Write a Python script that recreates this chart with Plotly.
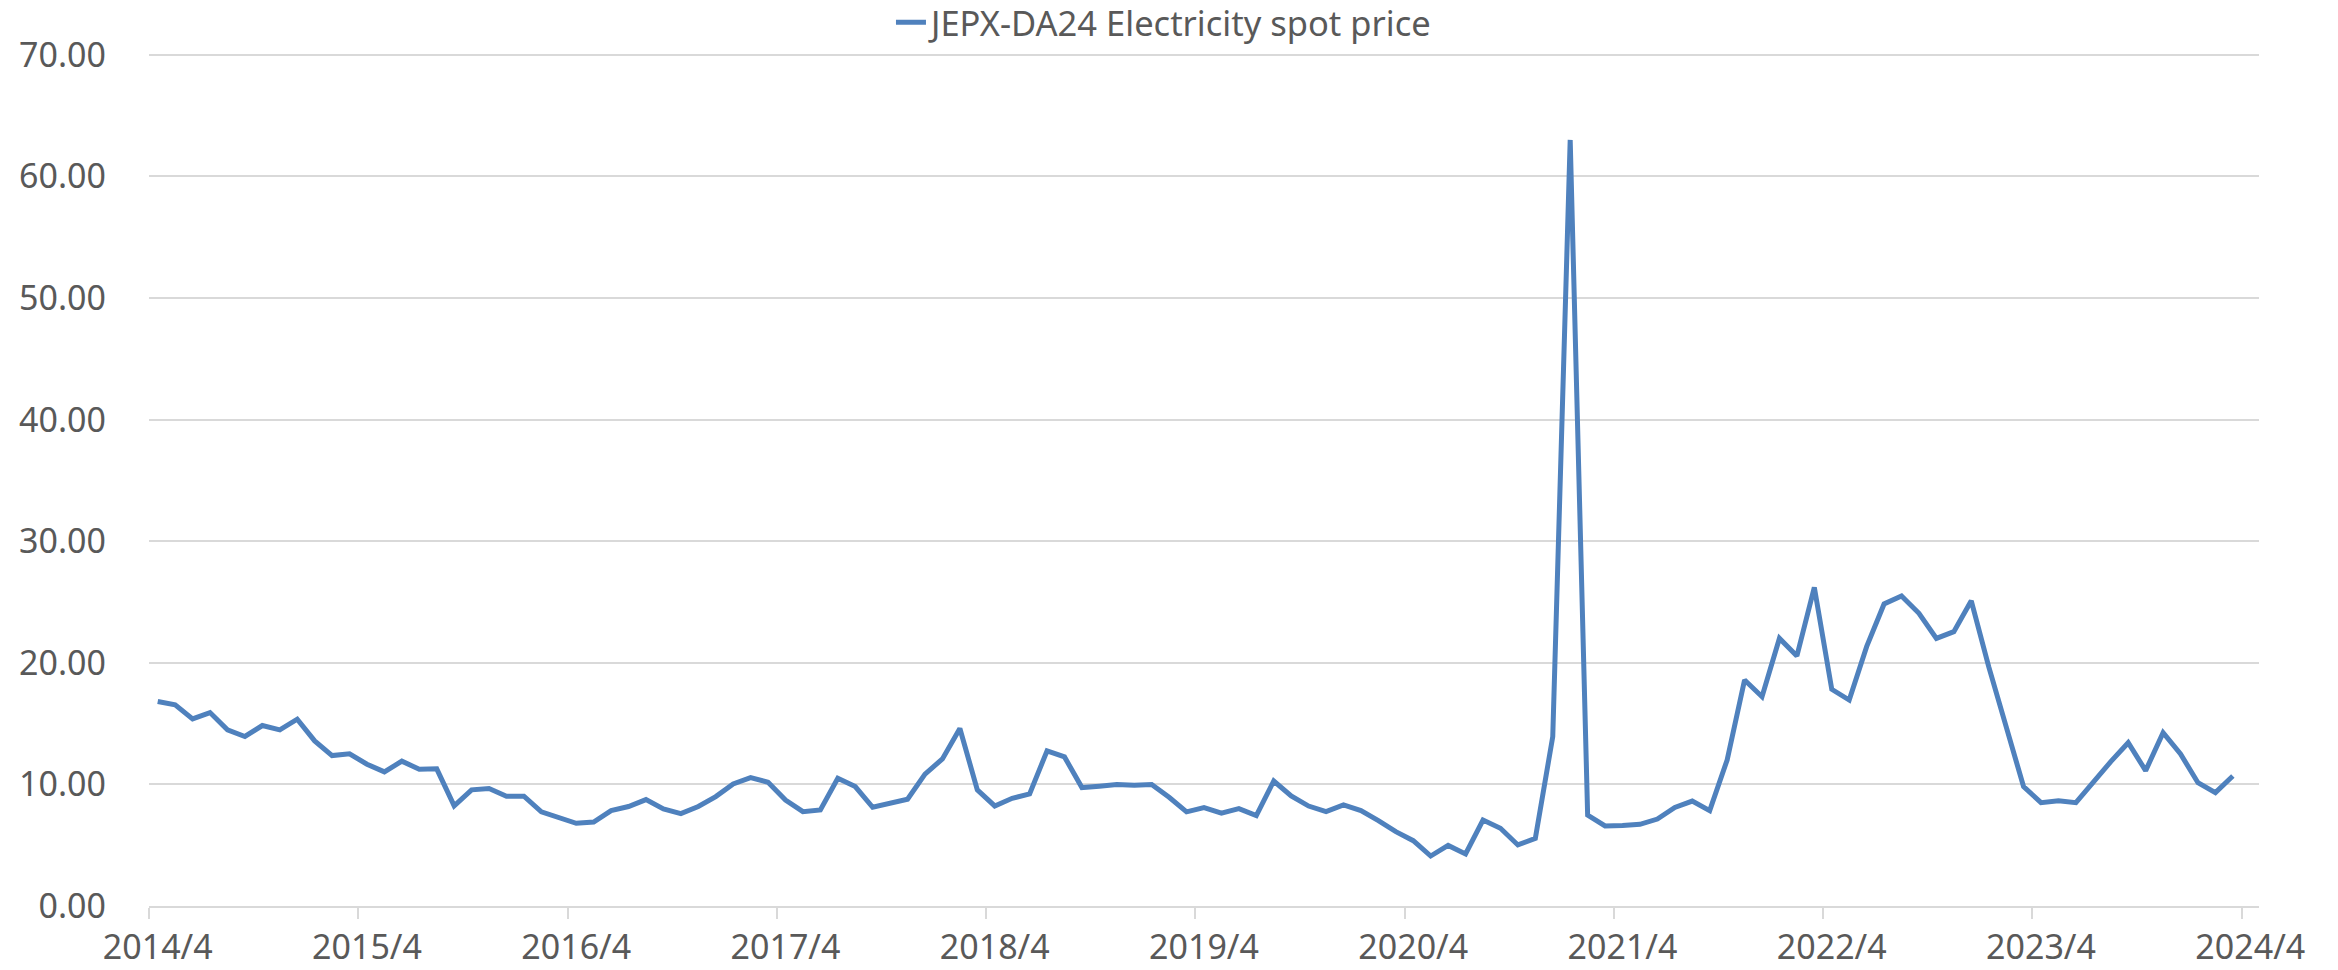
import plotly.graph_objects as go

# Categories: monthly from 2014/4 to 2024/4 (last category has no value)
months = []
for y in range(2014, 2025):
    for m in range(1, 13):
        if (y == 2014 and m < 4) or (y == 2024 and m > 4):
            continue
        months.append(f"{y}/{m}")

series_name = "JEPX-DA24 Electricity spot price"
prices = [
    16.82, 16.54, 15.39, 15.91, 14.49, 13.94, 14.84, 14.49, 15.36, 13.58, 12.37, 12.51,
    11.66, 11.03, 11.91, 11.25, 11.28, 8.23, 9.55, 9.66, 9.03, 9.03, 7.74, 7.27,
    6.80, 6.91, 7.85, 8.18, 8.75, 7.98, 7.60, 8.18, 9.00, 10.04, 10.56, 10.18,
    8.72, 7.76, 7.90, 10.51, 9.82, 8.12, 8.45, 8.78, 10.84, 12.10, 14.60, 9.55,
    8.23, 8.86, 9.22, 12.76, 12.26, 9.74, 9.85, 9.99, 9.93, 9.99, 8.94, 7.74,
    8.09, 7.63, 8.01, 7.43, 10.28, 9.05, 8.22, 7.76, 8.31, 7.84, 7.02, 6.11,
    5.37, 4.11, 4.98, 4.28, 7.07, 6.39, 5.02, 5.56, 13.93, 63.00, 7.48, 6.58,
    6.63, 6.72, 7.15, 8.11, 8.63, 7.84, 12.01, 18.59, 17.21, 22.01, 20.56, 26.20,
    17.82, 16.94, 21.33, 24.84, 25.50, 24.07, 22.01, 22.56, 25.10, 19.68, 14.75, 9.81,
    8.50, 8.66, 8.50, 10.22, 11.87, 13.43, 11.13, 14.25, 12.50, 10.14, 9.32, 10.69,
]

label_idx = list(range(0, len(months), 12))
tick_labels = [months[i] for i in label_idx]
boundary_vals = [i - 0.5 for i in label_idx]

TXT = "#595959"
GRID = "#d9d9d9"
FONT = "Noto Sans"
FS = 34

fig = go.Figure()
fig.add_trace(go.Scatter(
    x=list(range(len(prices))), y=prices, mode="lines", name=series_name,
    line=dict(color="#4F81BD", width=5),
    showlegend=True,
))

fig.update_layout(
    width=2338, height=970,
    margin=dict(l=149, r=79, t=53, b=64, autoexpand=False),
    paper_bgcolor="white", plot_bgcolor="white",
    font=dict(family=FONT, size=FS, color=TXT),
    showlegend=True,
    legend=dict(orientation="h", x=0.4815, xanchor="center",
                yref="container", y=0.977, yanchor="middle",
                font=dict(family=FONT, size=34.5, color=TXT), bgcolor="rgba(0,0,0,0)"),
    xaxis=dict(
        range=[-0.5, len(months) - 0.5],
        tickmode="array", tickvals=label_idx, ticktext=tick_labels,
        ticks="", showgrid=False, zeroline=False,
        showline=True, linecolor=GRID, linewidth=2,
        tickfont=dict(family=FONT, size=FS, color=TXT),
        ticklabelstandoff=10,
        minor=dict(tickmode="array", tickvals=boundary_vals, ticks="outside",
                   ticklen=11, tickwidth=2, tickcolor=GRID, showgrid=False),
    ),
    yaxis=dict(
        range=[0, 70.15], tickmode="linear", tick0=0, dtick=10, tickformat=".2f",
        showgrid=True, gridcolor=GRID, gridwidth=2, zeroline=False,
        ticks="", showline=False,
        tickfont=dict(family=FONT, size=FS, color=TXT),
        ticklabelstandoff=42,
    ),
)

fig.write_html(
    "out.html",
    config={"displayModeBar": False},
    post_script="document.body.style.margin='0';document.body.style.overflow='hidden';",
)
